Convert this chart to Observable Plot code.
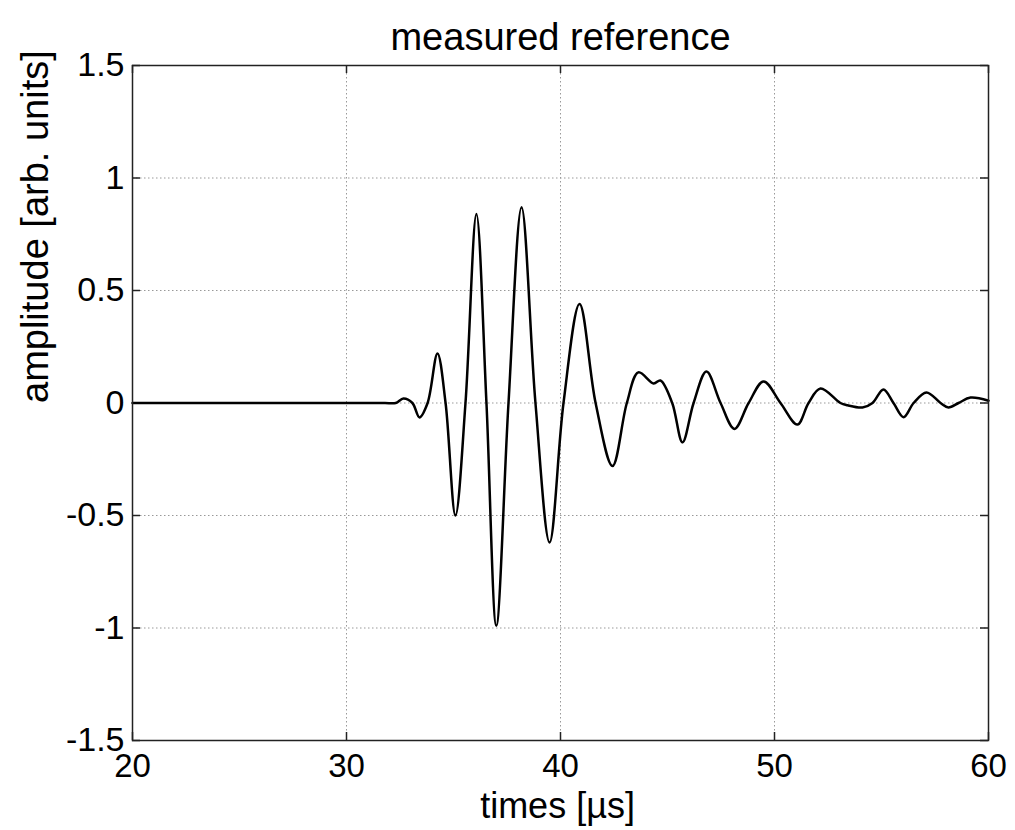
<!DOCTYPE html>
<html>
<head>
<meta charset="utf-8">
<script src="https://cdn.jsdelivr.net/npm/d3@7"></script>
<script src="https://cdn.jsdelivr.net/npm/@observablehq/plot@0.6"></script>
<style>
  html, body { margin: 0; padding: 0; background: white; }
</style>
</head>
<body>
<script>
const chartTitle = "measured reference";
const xLabel = "times [µs]";
const yLabel = "amplitude [arb. units]";
const xTicks = [20, 30, 40, 50, 60];
const yTicks = [-1.5, -1, -0.5, 0, 0.5, 1, 1.5];

// waveform key points (flat start, extrema and zero crossings)
const times = [20, 24, 28, 31, 31.8, 32.3, 32.66, 33.08, 33.41, 33.79, 34.25, 34.63, 35.09, 35.56, 36.07, 36.54, 37.0, 37.57, 38.18, 38.83, 39.49, 40.14, 40.89, 41.64, 42.43, 43.1, 43.64, 44.35, 44.67, 45.22, 45.7, 46.22, 46.82, 47.48, 48.13, 48.79, 49.49, 50.28, 51.07, 51.59, 52.15, 53.08, 53.41, 54.11, 54.58, 55.09, 55.56, 56.03, 56.5, 57.1, 57.76, 58.13, 58.6, 59.16, 60];
const amplitudes = [0, 0, 0, 0, 0, 0, 0.02, 0, -0.064, 0, 0.22, 0, -0.5, 0, 0.84, 0, -0.99, 0, 0.87, 0, -0.62, 0, 0.44, 0, -0.28, 0, 0.136, 0.087, 0.1, 0, -0.175, 0, 0.14, 0, -0.115, 0, 0.096, 0, -0.096, 0, 0.064, 0, -0.01, -0.02, 0, 0.06, 0, -0.063, 0, 0.047, 0, -0.02, 0, 0.024, 0.01];

const data = times.map((t, i) => ({t, a: amplitudes[i]}));

const W = 1015, H = 830, mL = 132, mR = 27, mT = 65, mB = 90;
const plotW = W - mL - mR, plotH = H - mT - mB;
const tickLen = 8;
const fmt = d => String(d);
const font = "'Liberation Sans', Arial, Helvetica, sans-serif";

const chart = Plot.plot({
  width: W,
  height: H,
  marginLeft: mL,
  marginRight: mR,
  marginTop: mT,
  marginBottom: mB,
  style: {fontFamily: font, background: "white", color: "black"},
  x: {domain: [20, 60]},
  y: {domain: [-1.5, 1.5]},
  marks: [
    Plot.gridX(xTicks, {stroke: "#999", strokeOpacity: 1, strokeDasharray: "1.5,2.5"}),
    Plot.gridY(yTicks, {stroke: "#999", strokeOpacity: 1, strokeDasharray: "1.5,2.5"}),
    Plot.tickX(xTicks, {x: d => d, insetTop: plotH - tickLen, stroke: "#222", strokeWidth: 1.5}),
    Plot.tickX(xTicks, {x: d => d, insetBottom: plotH - tickLen, stroke: "#222", strokeWidth: 1.5}),
    Plot.tickY(yTicks, {y: d => d, insetRight: plotW - tickLen, stroke: "#222", strokeWidth: 1.5}),
    Plot.tickY(yTicks, {y: d => d, insetLeft: plotW - tickLen, stroke: "#222", strokeWidth: 1.5}),
    Plot.axisX(xTicks, {tickSize: 0, tickPadding: 13, fontSize: 33, label: null, tickFormat: fmt, fill: "black"}),
    Plot.axisY(yTicks, {tickSize: 0, tickPadding: 8, fontSize: 34, label: null, tickFormat: fmt, fill: "black"}),
    Plot.lineY(data, {x: "t", y: "a", curve: "catmull-rom", stroke: "black", strokeWidth: 2.5}),
    Plot.frame({stroke: "#222", strokeWidth: 1.5}),
    Plot.text([chartTitle], {frameAnchor: "top", dy: -42, fontSize: 38, fill: "black"}),
    Plot.text([xLabel], {frameAnchor: "bottom", dy: 77, dx: -3, fontSize: 36, fill: "black"}),
    Plot.text([yLabel], {frameAnchor: "left", dx: -97, rotate: -90, fontSize: 38, fill: "black"})
  ]
});
document.body.appendChild(chart);
</script>
</body>
</html>
